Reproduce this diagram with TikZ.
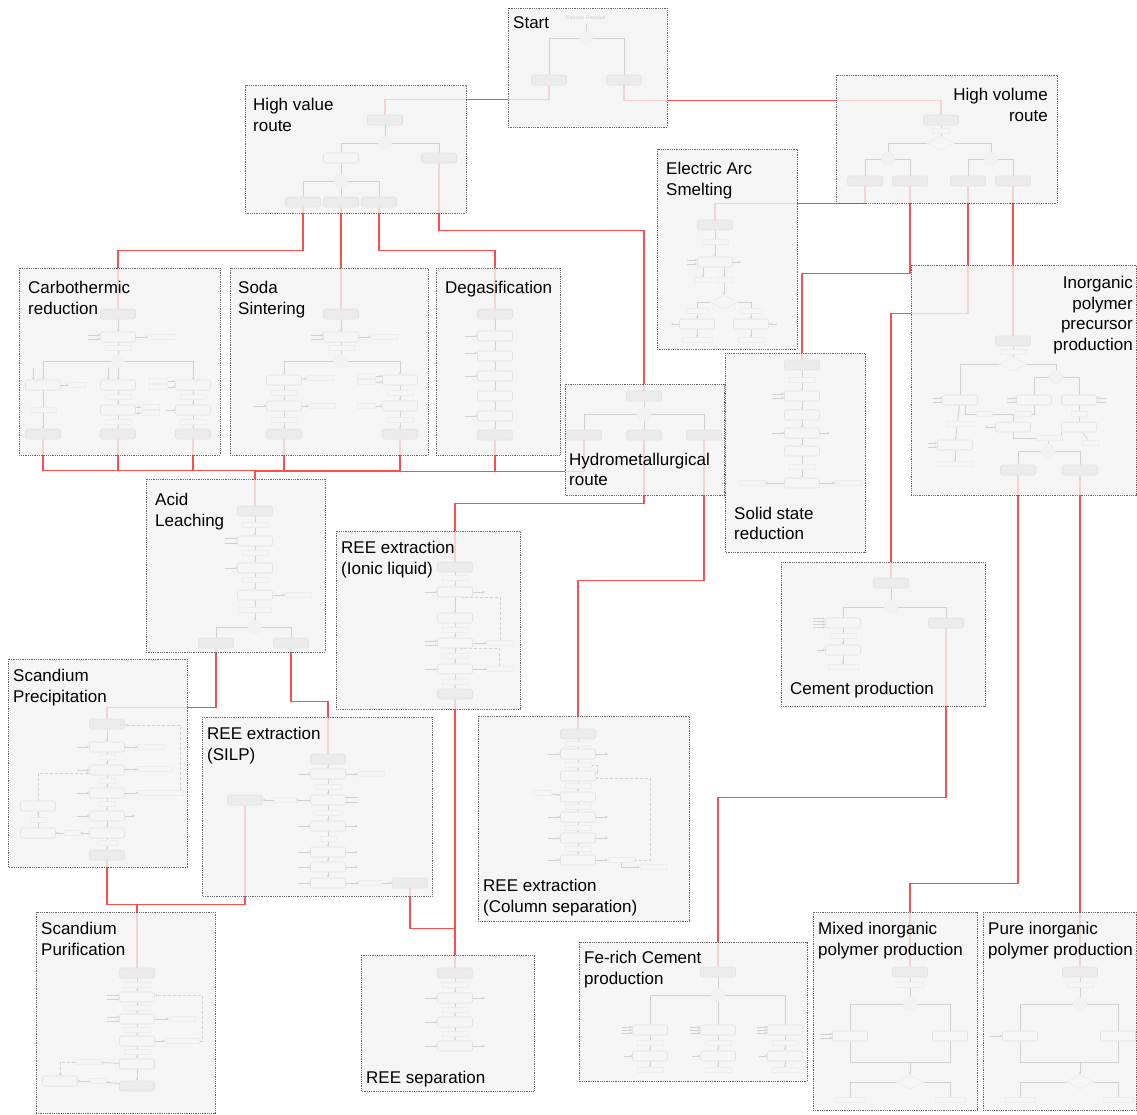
\documentclass[tikz,border=0pt]{standalone}
\usepackage{fontspec}
\setmainfont{Liberation Sans}
\usetikzlibrary{shapes.geometric,arrows.meta}
\pgfdeclarelayer{wires}
\pgfdeclarelayer{panels}
\pgfsetlayers{wires,panels,main}
\definecolor{wirered}{HTML}{FF4D4D}
\definecolor{panelgray}{HTML}{F3F3F3}
\tikzset{
  panel/.style={draw=black!60, densely dotted, line width=0.8pt, fill=panelgray, fill opacity=0.8},
  blk/.style={draw=black!11, fill=black!8, rounded corners=1.5pt, minimum width=35pt, minimum height=10pt, inner sep=0pt, line width=0.6pt},
  wbx/.style={blk, fill=black!4},
  tg/.style={draw=black!7, fill=black!4, minimum width=26pt, minimum height=5pt, inner sep=0pt, line width=0.5pt},
  jn/.style={circle, draw=black!7, fill=black!5, minimum size=13pt, inner sep=0pt},
  dm/.style={diamond, draw=black!9, fill=black!4, minimum width=28pt, minimum height=14pt, inner sep=0pt},
  fl/.style={draw=black!18, line width=0.8pt},
  fa/.style={fl, -{Stealth[length=2.5pt,width=2.5pt]}},
  dl/.style={fa, dash pattern=on 3pt off 2pt},
  wr/.style={draw=wirered, line width=1.4pt},
  lbl/.style={font=\fontsize{17}{20.5}\selectfont, align=left, inner sep=0pt},
}
\begin{document}
\begin{tikzpicture}[x=1pt,y=-1pt]
\useasboundingbox (0,0) rectangle (1137,1114);

% panels
\begin{pgfonlayer}{panels}
\draw[panel] (508,8) rectangle (667,127);
\draw[panel] (245,85) rectangle (466,213);
\draw[panel] (836,75) rectangle (1057,203);
\draw[panel] (657,149) rectangle (797,349);
\draw[panel] (19,268) rectangle (220,455);
\draw[panel] (230,268) rectangle (428,455);
\draw[panel] (436,268) rectangle (560,455);
\draw[panel] (565,384) rectangle (724,495);
\draw[panel] (725,353) rectangle (865,552);
\draw[panel] (911,265) rectangle (1136.5,495);
\draw[panel] (146,479) rectangle (325,652);
\draw[panel] (336,531) rectangle (520,709);
\draw[panel] (781,562) rectangle (985,706);
\draw[panel] (8,659) rectangle (187,867);
\draw[panel] (202,717) rectangle (432,896);
\draw[panel] (478,716) rectangle (689,921);
\draw[panel] (36,912) rectangle (215,1113.5);
\draw[panel] (361,955) rectangle (534,1091);
\draw[panel] (579,942) rectangle (807,1081);
\draw[panel] (813,912) rectangle (977,1110);
\draw[panel] (983,912) rectangle (1136.5,1110);
\end{pgfonlayer}

% start
\node[font=\fontsize{5.5}{6}\selectfont, text=black!18] (stT) at (586,18) {Bauxite Residue};
\node[jn] (st0) at (586,38) {};
\node[blk] (stL) at (549,80) {};
\node[blk] (stR) at (624,80) {};

% high value route
\node[blk] (hv0) at (385,120) {};
\node[jn] (hvJ) at (385,143) {};
\node[wbx] (hvA) at (341,158) {};
\node[blk] (hvB) at (439,158) {};
\node[jn] (hvK) at (341,181) {};
\node[blk] (hvC) at (303,202) {};
\node[blk] (hvD) at (341,202) {};
\node[blk] (hvE) at (379,202) {};

% high volume route
\node[blk] (vo0) at (941,120) {};
\node[tg, minimum width=17pt] (voT) at (941,131) {};
\node[dm] (voM) at (941,143) {};
\node[jn] (voJ) at (888,159) {};
\node[jn] (voK) at (991,159) {};
\node[blk] (voA) at (865,181) {};
\node[blk] (voB) at (910,181) {};
\node[blk] (voC) at (968,181) {};
\node[blk] (voD) at (1013,181) {};

% electric arc smelting
\node[blk] (ea0) at (715,225) {};
\node[tg] (eaT) at (715,242) {};
\node[wbx] (ea1) at (715,262) {};
\node[tg, minimum width=16pt] (eaT1) at (703,280) {};
\node[tg, minimum width=16pt] (eaT2) at (724,280) {};
\node[dm] (eaM) at (724,302) {};
\node[tg, minimum width=22pt] (eaT3) at (697,311) {};
\node[tg, minimum width=22pt] (eaT4) at (751,311) {};
\node[wbx] (eaL) at (697,324) {};
\node[wbx] (eaR) at (751,324) {};
\node[tg, minimum width=30pt] (eaB1) at (697,340) {};
\node[tg] (eaB2) at (751,340) {};

% solid state reduction
\node[blk] (ss0) at (802,365) {};
\foreach \n/\y in {1/396,2/415,3/433,4/451,5/483} \node[wbx] (ss\n) at (802,\y) {};
\node[tg] (ssT1) at (802,380) {};
\node[tg] (ssT5) at (802,467) {};
\node[tg] (ssTL) at (752,483) {};
\node[tg] (ssTR) at (848,483) {};

% carbothermic reduction
\node[blk] (cb0) at (118,314) {};
\node[wbx] (cb1) at (118,337) {};
\node[tg] (cbT1) at (118,348) {};
\node[tg] (cbS1) at (161,337) {};
\node[jn] (cbJ) at (118,361) {};
\node[wbx] (cbA) at (43,385) {};
\node[wbx] (cbB) at (118,385) {};
\node[wbx] (cbC) at (193,385) {};
\node[tg, minimum width=17pt] (cbSA) at (77,385) {};
\node[tg] (cbTA) at (43,410) {};
\node[tg] (cbTB) at (118,397) {};
\node[wbx] (cbB2) at (118,410) {};
\node[tg] (cbTB2) at (118,422) {};
\node[tg, minimum width=18pt] (cbSB1) at (150,407) {};
\node[tg, minimum width=18pt] (cbSB2) at (150,413) {};
\node[tg, minimum width=18pt] (cbSC1) at (158,381) {};
\node[tg, minimum width=18pt] (cbSC2) at (158,387) {};
\node[tg] (cbTC) at (193,397) {};
\node[wbx] (cbC2) at (193,410) {};
\node[tg] (cbTC2) at (193,422) {};
\node[blk] (cbL) at (43,434) {};
\node[blk] (cbM) at (118,434) {};
\node[blk] (cbR) at (193,434) {};

% soda sintering
\node[blk] (so0) at (341,314) {};
\node[wbx] (so1) at (341,337) {};
\node[tg] (soT1) at (341,348) {};
\node[tg] (soS1) at (384,337) {};
\node[jn] (soJ) at (341,361) {};
\node[wbx] (soA) at (284,380) {};
\node[wbx] (soB) at (400,380) {};
\node[tg] (soSA) at (320,378) {};
\node[tg, minimum width=18pt] (soSB1) at (366,376) {};
\node[tg, minimum width=18pt] (soSB2) at (366,382) {};
\node[tg] (soTA) at (284,393) {};
\node[wbx] (soA2) at (284,406) {};
\node[tg] (soSA2) at (322,406) {};
\node[tg] (soTB) at (400,393) {};
\node[wbx] (soB2) at (400,406) {};
\node[tg, minimum width=18pt] (soSB3) at (366,406) {};
\node[tg] (soTA2) at (284,420) {};
\node[tg] (soTB2) at (400,420) {};
\node[blk] (soL) at (284,434) {};
\node[blk] (soR) at (400,434) {};

% degasification
\node[blk] (dg0) at (495,314) {};
\foreach \n/\y in {1/336,2/356,3/376,4/396,5/416} \node[wbx] (dg\n) at (495,\y) {};
\node[blk] (dg6) at (495,435) {};

% hydrometallurgical route
\node[blk] (hy0) at (644,396) {};
\node[jn] (hyJ) at (644,414) {};
\node[blk] (hyL) at (584,435) {};
\node[blk] (hyM) at (644,435) {};
\node[blk] (hyR) at (704,435) {};

% inorganic polymer precursor
\node[blk] (id0) at (1013,341) {};
\node[tg] (idT0) at (1013,352) {};
\node[dm] (idM) at (1013,364) {};
\node[jn] (idJ) at (1056,377) {};
\node[wbx] (idA) at (960,400) {};
\node[wbx] (idB) at (1034,400) {};
\node[wbx] (idC) at (1079,400) {};
\node[tg] (idTA) at (960,424) {};
\node[wbx] (idA2) at (955,445) {};
\node[tg, minimum width=34pt] (idTA2) at (955,464) {};
\node[tg, minimum width=16pt] (idTB) at (984,414) {};
\node[tg, minimum width=16pt] (idTB2) at (1023,414) {};
\node[wbx] (idD) at (1013,427) {};
\node[tg, minimum width=16pt] (idTC) at (1079,414) {};
\node[wbx] (idE) at (1079,427) {};
\node[tg, minimum width=16pt] (idTE) at (1090,443) {};
\node[tg] (idTD) at (1049,438) {};
\node[jn] (idK) at (1048,451) {};
\node[blk] (idL) at (1018,470) {};
\node[blk] (idR) at (1080,470) {};

% acid leaching
\node[blk] (al0) at (255,511) {};
\node[tg] (alT0) at (255,525) {};
\node[wbx] (al1) at (255,541) {};
\node[tg] (alT1) at (255,553) {};
\node[wbx] (al2) at (255,568) {};
\node[tg] (alT2) at (255,580) {};
\node[wbx] (al3) at (255,595) {};
\node[tg] (alS3) at (298,595) {};
\node[tg, minimum width=33pt] (alT3) at (255,610) {};
\node[jn] (alJ) at (255,627) {};
\node[blk] (alL) at (216,643) {};
\node[blk] (alR) at (291,643) {};

% REE extraction (ionic liquid)
\node[blk] (il0) at (455,567) {};
\node[tg] (ilT0) at (455,578) {};
\node[wbx] (il1) at (455,592) {};
\node[wbx] (il2) at (455,618) {};
\node[tg] (ilT2) at (455,630) {};
\node[wbx] (il3) at (455,643) {};
\node[tg] (ilT3) at (455,656) {};
\node[wbx] (il4) at (455,669) {};
\node[tg] (ilT4) at (455,682) {};
\node[blk] (il5) at (455,694) {};
\node[tg] (ilS3) at (500,643) {};
\node[tg] (ilS4) at (500,669) {};
\coordinate (ilC1) at (500,605);
\coordinate (ilC2) at (499,652);

% cement production
\node[blk] (cm0) at (891,583) {};
\node[jn] (cmJ) at (891,607) {};
\node[wbx] (cmA) at (843,623) {};
\node[blk] (cmR) at (946,623) {};
\node[tg] (cmT1) at (843,636) {};
\node[wbx] (cmB) at (843,650) {};
\node[tg, minimum width=30pt] (cmT2) at (843,667) {};

% scandium precipitation
\node[blk] (sp0) at (107,724) {};
\foreach \n/\y in {1/747,2/770,3/793,4/816,5/833} \node[wbx] (sp\n) at (107,\y) {};
\node[blk] (sp6) at (107,855) {};
\node[tg, minimum width=16pt] (spT1) at (107,757) {};
\node[tg, minimum width=16pt] (spT2) at (107,781) {};
\node[tg, minimum width=16pt] (spT3) at (107,804) {};
\node[tg, minimum width=20pt] (spT5) at (107,843) {};
\node[tg] (spS1) at (151,747) {};
\node[tg, minimum width=34pt] (spS2) at (155,769) {};
\node[tg, minimum width=45pt] (spS3) at (161,793) {};
\node[wbx] (spA) at (38,806) {};
\node[tg, minimum width=16pt] (spTA) at (38,820) {};
\node[wbx] (spB) at (38,833) {};
\node[tg, minimum width=16pt] (spSB) at (72,833) {};
\coordinate (spC1) at (38,773);
\coordinate (spC2) at (180,725);

% REE extraction (SILP)
\node[blk] (sl0) at (328,759) {};
\foreach \n/\y in {1/774,2/800,3/826,4/852,5/867,6/883} \node[wbx] (sl\n) at (328,\y) {};
\node[tg] (slT1) at (328,787) {};
\node[tg, minimum width=29pt] (slT2) at (328,813) {};
\node[tg, minimum width=16pt] (slT3) at (328,839) {};
\node[tg] (slS1) at (371,774) {};
\node[tg, minimum width=22pt] (slS2) at (285,800) {};
\node[blk] (slL) at (245,800) {};
\node[tg, minimum width=22pt] (slS6) at (370,883) {};
\node[blk] (slR) at (410,883) {};

% REE extraction (column separation)
\node[blk] (cs0) at (578,734) {};
\foreach \n/\y in {1/754,2/776,3/797,4/817,5/838,6/860} \node[wbx] (cs\n) at (578,\y) {};
\foreach \n/\y in {1/744,2/765,3/786,4/807,5/828,6/849} \node[tg] (csT\n) at (578,\y) {};
\node[tg] (csS6) at (621,860) {};
\node[tg] (csS7) at (653,867) {};
\node[tg, minimum width=18pt] (csS3) at (542,793) {};
\coordinate (csC1) at (650,860);

% scandium purification
\node[blk] (pu0) at (137,973) {};
\foreach \n/\y in {1/997,2/1019,3/1041,4/1064} \node[wbx] (pu\n) at (137,\y) {};
\node[blk] (pu5) at (137,1086) {};
\foreach \n/\y in {1/985,2/1008,3/1030,4/1052} \node[tg] (puT\n) at (137,\y) {};
\node[tg] (puS2) at (182,1019) {};
\node[tg, minimum width=34pt] (puS3) at (182,1041) {};
\node[tg] (puS4) at (88,1062) {};
\node[wbx] (puA) at (60,1081) {};
\node[tg, minimum width=16pt] (puSA) at (98,1081) {};
\coordinate (puC1) at (202,1041);

% REE separation
\node[blk] (rs0) at (455,973) {};
\foreach \n/\y in {1/998,2/1022,3/1046} \node[wbx] (rs\n) at (455,\y) {};
\foreach \n/\y in {1/985,2/1010,3/1034} \node[tg] (rsT\n) at (455,\y) {};

% Fe-rich cement production
\node[blk] (fe0) at (718,972) {};
\node[jn] (feJ) at (718,995) {};
\foreach \n/\x in {A/650,B/718,C/785} {
  \node[wbx] (fe\n) at (\x,1030) {};
  \node[tg] (feT\n) at (\x,1043) {};
  \node[wbx] (fe\n2) at (\x,1056) {};
  \node[tg] (feU\n) at (\x,1070) {};
}

% mixed inorganic polymer production
\node[blk] (mx0) at (910,972) {};
\node[tg] (mxT) at (910,985) {};
\node[jn] (mxJ) at (910,1004) {};
\node[wbx] (mxA) at (850,1036) {};
\node[wbx] (mxB) at (950,1036) {};
\coordinate (mxC) at (910,1062);
\node[dm] (mxM) at (910,1082) {};
\node[tg, minimum width=30pt] (mxU1) at (850,1100) {};
\node[tg, minimum width=30pt] (mxU2) at (950,1100) {};

% pure inorganic polymer production
\node[blk] (pr0) at (1080,972) {};
\node[tg] (prT) at (1080,985) {};
\node[jn] (prJ) at (1080,1004) {};
\node[wbx] (prA) at (1020,1036) {};
\node[wbx] (prB) at (1118,1036) {};
\coordinate (prC) at (1080,1062);
\node[dm] (prM) at (1080,1082) {};
\node[tg, minimum width=30pt] (prU1) at (1020,1100) {};
\node[tg, minimum width=30pt] (prU2) at (1118,1100) {};

% faint flows inside panels
\begin{pgfonlayer}{panels}
\draw[fl] (stT) -- (st0);
\draw[fl] (st0) -| (stL);
\draw[fl] (st0) -| (stR);
\draw[fl] (hv0) -- (hvJ);
\draw[fl] (hvJ) -| (hvA);
\draw[fl] (hvJ) -| (hvB);
\draw[fl] (hvA) -- (hvK);
\draw[fl] (hvK) -| (hvC);
\draw[fl] (hvK) -- (hvD);
\draw[fl] (hvK) -| (hvE);
\draw[fl] (vo0) -- (voM);
\draw[fl] (voM) -| (voJ);
\draw[fl] (voM) -| (voK);
\draw[fl] (voJ) -| (voA);
\draw[fl] (voJ) -| (voB);
\draw[fl] (voK) -| (voC);
\draw[fl] (voK) -| (voD);
% electric arc
\draw[fa] (ea0) -- (ea1);
\draw[fa] (ea1.south -| eaT1) -- (eaT1);
\draw[fa] (ea1.south -| eaT2) -- (eaT2);
\draw[fa] (eaT2) -- (eaM);
\draw[fa] (eaM) -| (eaL);
\draw[fa] (eaM) -| (eaR);
\draw[fa] (eaL) -- (eaB1);
\draw[fa] (eaR) -- (eaB2);
\foreach \d in {-2,2} \draw[fa] ([xshift=-10pt,yshift=\d pt]ea1.west) -- ([yshift=\d pt]ea1.west);
\draw[fa] (ea1.east) -- ++(8,0);
\draw[fa] (eaL.west) -- ++(-8,0);
\draw[fa] ([xshift=8pt]eaR.east) -- (eaR.east);
% solid state
\foreach \a/\b in {0/1,1/2,2/3,3/4,4/5} \draw[fa] (ss\a) -- (ss\b);
\draw[fa] (ss5) -- (ssTL);
\draw[fa] (ss5) -- (ssTR);
\foreach \d in {-2,2} \draw[fa] ([xshift=-12pt,yshift=\d pt]ss1.west) -- ([yshift=\d pt]ss1.west);
\draw[fa] ([xshift=-12pt]ss3.west) -- (ss3.west);
\draw[fa] (ss3.east) -- ++(10,0);
% carbothermic
\draw[fa] (cb0) -- (cb1);
\draw[fl] (cb1) -- (cbJ);
\draw[fa] (cb1) -- (cbS1);
\draw[fa] (cbJ) -| (cbA);
\draw[fa] (cbJ) -- (cbB);
\draw[fa] (cbJ) -| (cbC);
\draw[fa] (cbA) -- (cbSA);
\draw[fa] (cbA) -- (cbL);
\draw[fa] (cbB) -- (cbB2);
\draw[fa] (cbB2) -- (cbM);
\draw[fa] (cbC) -- (cbC2);
\draw[fa] (cbC2) -- (cbR);
\draw[fa] (cbSC1) -- (cbSC1 -| cbC.west);
\draw[fa] (cbSC2) -- (cbSC2 -| cbC.west);
\draw[fa] (cbB2.east |- cbSB1) -- (cbSB1);
\draw[fa] (cbB2.east |- cbSB2) -- (cbSB2);
\foreach \d in {-2,2} \draw[fa] ([xshift=-12pt,yshift=\d pt]cb1.west) -- ([yshift=\d pt]cb1.west);
\draw[fa] ([xshift=-10pt,yshift=12pt]cbA.north) -- ([xshift=-10pt]cbA.north);
\draw[fa] ([xshift=-10pt,yshift=12pt]cbB.north) -- ([xshift=-10pt]cbB.north);
\draw[fa] ([xshift=-9pt]cbC2.west) -- (cbC2.west);
% soda sintering
\draw[fa] (so0) -- (so1);
\draw[fl] (so1) -- (soJ);
\draw[fa] (so1) -- (soS1);
\draw[fa] (soJ) -| (soA);
\draw[fa] (soJ) -| (soB);
\draw[fa] (soA) -- (soSA);
\draw[fa] (soA) -- (soA2);
\draw[fa] (soA2) -- (soSA2);
\draw[fa] (soA2) -- (soL);
\draw[fa] (soB) -- (soB2);
\draw[fa] (soB2) -- (soR);
\draw[fa] (soSB1) -- (soSB1 -| soB.west);
\draw[fa] (soSB2) -- (soSB2 -| soB.west);
\draw[fa] (soSB3) -- (soB2);
\foreach \d in {-2,2} \draw[fa] ([xshift=-12pt,yshift=\d pt]so1.west) -- ([yshift=\d pt]so1.west);
\draw[fa] ([xshift=-12pt]soA2.west) -- (soA2.west);
% degasification
\foreach \a/\b in {0/1,1/2,2/3,3/4,4/5,5/6} \draw[fa] (dg\a) -- (dg\b);
\foreach \n in {1,3,5} \draw[fa] ([xshift=-12pt]dg\n.west) -- (dg\n.west);
\draw[fa] ([xshift=-12pt,yshift=3pt]dg2.west) -- ([yshift=3pt]dg2.west);
% hydrometallurgical
\draw[fl] (hy0) -- (hyJ);
\draw[fl] (hyJ) -| (hyL);
\draw[fl] (hyJ) -- (hyM);
\draw[fl] (hyJ) -| (hyR);
% inorganic precursor
\draw[fl] (id0) -- (idM);
\draw[fl] (idM) -| (idA);
\draw[fl] (idM) -| (idJ);
\draw[fl] (idJ) -| (idB);
\draw[fl] (idJ) -| (idC);
\draw[fa] (idA) -- (idA2);
\draw[fa] (idA2) -- (idTA2);
\draw[fl] ([xshift=5pt]idA.south) |- (idTB);
\draw[fl] (idTB) -| (idD);
\draw[fl] (idB) |- (idTB2);
\draw[fl] (idC) -- (idE);
\draw[fl] (idE) -- (idTE);
\draw[fl] (idD) |- (idTD);
\draw[fl] (idE.south west) |- (idTD);
\draw[fl] (idTD) -- (idK);
\draw[fl] (idK) -| (idL);
\draw[fl] (idK) -| (idR);
\draw[fa] (idD.west) -- ++(-10,0);
\foreach \d in {-2,2} {
  \draw[fa] ([xshift=-9pt,yshift=\d pt]idA.west) -- ([yshift=\d pt]idA.west);
  \draw[fa] ([xshift=-9pt,yshift=\d pt]idB.west) -- ([yshift=\d pt]idB.west);
  \draw[fa] ([xshift=-9pt,yshift=\d pt]idA2.west) -- ([yshift=\d pt]idA2.west);
  \draw[fa] ([xshift=9pt,yshift=\d pt]idC.east) -- ([yshift=\d pt]idC.east);
}
% acid leaching
\foreach \a/\b in {0/1,1/2,2/3} \draw[fa] (al\a) -- (al\b);
\draw[fa] (al3) -- (alJ);
\draw[fl] (alJ) -| (alL);
\draw[fl] (alJ) -| (alR);
\draw[fa] (al3) -- (alS3);
\foreach \d in {-2.5,2.5} \draw[fa] ([xshift=-12pt,yshift=\d pt]al1.west) -- ([yshift=\d pt]al1.west);
\draw[fa] ([xshift=-12pt]al2.west) -- (al2.west);
% ionic liquid
\foreach \a/\b in {0/1,1/2,2/3,3/4,4/5} \draw[fa] (il\a) -- (il\b);
\draw[fa] (il1.east) -- ++(12,0);
\draw[fa] ([xshift=-12pt]il1.west) -- (il1.west);
\draw[fa] (il3) -- (ilS3);
\draw[fa] (il4) -- (ilS4);
\foreach \d in {-2,2} \draw[fa] ([xshift=-12pt,yshift=\d pt]il3.west) -- ([yshift=\d pt]il3.west);
\draw[fa] ([xshift=-12pt]il4.west) -- (il4.west);
\draw[dl] (ilS3.north -| ilC1) |- ([xshift=7pt]il1.south);
\draw[dl] (ilS4.north -| ilC2) |- ([xshift=5pt]il3.south);
% cement
\draw[fl] (cm0) -- (cmJ);
\draw[fl] (cmJ) -| (cmA);
\draw[fl] (cmJ) -| (cmR);
\draw[fa] (cmA) -- (cmB);
\draw[fa] (cmB) -- (cmT2);
\foreach \d in {-4.5,-1.5,1.5,4.5} \draw[fa] ([xshift=-12pt,yshift=\d pt]cmA.west) -- ([yshift=\d pt]cmA.west);
\draw[fa] ([xshift=-8pt]cmB.west) -- (cmB.west);
% scandium precipitation
\foreach \a/\b in {0/1,1/2,2/3,3/4,4/5,5/6} \draw[fa] (sp\a) -- (sp\b);
\foreach \n in {1,2,3} \draw[fa] (sp\n) -- (spS\n);
\foreach \n in {1,2,3,4} \draw[fa] ([xshift=-12pt]sp\n.west) -- (sp\n.west);
\draw[fa] (sp4.east) -- ++(10,0);
\draw[fa] (sp5) -- (spSB);
\draw[fa] (spSB) -- (spB);
\draw[fa] (spB) -- (spA);
\draw[dl] (spA) -- (spC1) -- ([yshift=-3pt]sp2.west);
\draw[dl] (spS3.north -| spC2) -- (spC2) -- (sp0.east |- spC2);
% SILP
\foreach \a/\b in {0/1,1/2,2/3,3/4,4/5,5/6} \draw[fa] (sl\a) -- (sl\b);
\draw[fa] (sl1) -- (slS1);
\draw[fa] (sl2) -- (slS2);
\draw[fa] (slS2) -- (slL);
\draw[fa] (sl6) -- (slS6);
\draw[fa] (slS6) -- (slR);
\foreach \d in {-2.5,2.5} \draw[fa] ([xshift=12pt,yshift=\d pt]sl2.east) -- ([yshift=\d pt]sl2.east);
\foreach \n in {1,3,4,5,6} \draw[fa] ([xshift=-12pt]sl\n.west) -- (sl\n.west);
\foreach \n in {3,4,5} \draw[fa] (sl\n.east) -- ++(12,0);
% column separation
\foreach \a/\b in {0/1,1/2,2/3,3/4,4/5,5/6} \draw[fa] (cs\a) -- (cs\b);
\foreach \n in {1,4,5,6} \draw[fa] ([xshift=-12pt]cs\n.west) -- (cs\n.west);
\foreach \n in {1,4,5} \draw[fa] (cs\n.east) -- ++(12,0);
\draw[fa] (csS3) -- (cs3);
\draw[fa] (cs6) -- (csS6);
\draw[fa] (csS6) |- (csS7);
\draw[dl] (csS6) -- (csC1) |- ([yshift=-2pt]cs2.east);
\draw[dl] (csT2.east) -- ++(6,0) |- ([yshift=3pt]cs2.east);
% scandium purification
\foreach \a/\b in {0/1,1/2,2/3,3/4,4/5} \draw[fa] (pu\a) -- (pu\b);
\foreach \n in {1,2} \foreach \d in {-2,2} \draw[fa] ([xshift=-12pt,yshift=\d pt]pu\n.west) -- ([yshift=\d pt]pu\n.west);
\draw[fa] (pu2) -- (puS2);
\draw[fa] (pu3) -- (puS3);
\draw[dl] (puS3) -- (puC1) |- ([yshift=2pt]pu1.east);
\draw[fa] (pu4) -- (puS4);
\draw[fa] (pu5) -- (puSA);
\draw[fa] (puSA) -- (puA);
\draw[dl] (puS4) -| (puA);
% REE separation
\foreach \a/\b in {0/1,1/2,2/3} \draw[fa] (rs\a) -- (rs\b);
\foreach \n in {1,2,3} \draw[fa] ([xshift=-12pt]rs\n.west) -- (rs\n.west);
\foreach \n in {1,3} \draw[fa] (rs\n.east) -- ++(12,0);
% Fe-rich cement
\draw[fl] (fe0) -- (feJ);
\draw[fl] (feJ) -| (feA);
\draw[fl] (feJ) -- (feB);
\draw[fl] (feJ) -| (feC);
\foreach \n in {A,B,C} {
  \draw[fa] (fe\n) -- (fe\n2);
  \draw[fa] (fe\n2) -- (feU\n);
  \foreach \d in {-3,0,3} \draw[fa] ([xshift=-10pt,yshift=\d pt]fe\n.west) -- ([yshift=\d pt]fe\n.west);
  \draw[fa] ([xshift=-8pt]fe\n2.west) -- (fe\n2.west);
}
% mixed inorganic polymer
\draw[fl] (mx0) -- (mxJ);
\draw[fl] (mxJ) -| (mxA);
\draw[fl] (mxJ) -| (mxB);
\draw[fl] (mxA) |- (mxC);
\draw[fl] (mxB) |- (mxC);
\draw[fa] (mxC) -- (mxM);
\draw[fl] (mxM) -| (mxU1);
\draw[fl] (mxM) -| (mxU2);
\foreach \d in {-2,2} \draw[fa] ([xshift=-12pt,yshift=\d pt]mxA.west) -- ([yshift=\d pt]mxA.west);
\draw[fa] ([xshift=-10pt]mxB.east) -- (mxB.east);
% pure inorganic polymer
\draw[fl] (pr0) -- (prJ);
\draw[fl] (prJ) -| (prA);
\draw[fl] (prJ) -| (prB);
\draw[fl] (prA) |- (prC);
\draw[fl] (prB) |- (prC);
\draw[fa] (prC) -- (prM);
\draw[fl] (prM) -| (prU1);
\draw[fl] (prM) -| (prU2);
\draw[fa] ([xshift=-12pt]prA.west) -- (prA.west);
\end{pgfonlayer}

% red connectors between routes
\begin{pgfonlayer}{wires}
\draw[wr] (hv0.north) -- ++(0,-15) -| (stL.south);
\draw[wr] (stR.south) -- ++(0,15) -| (vo0.north);
\draw[wr] (voA.south) -- ++(0,17) -| (ea0.north);
\draw[wr] (voB.south) -- ++(0,87) -| (ss0.north);
\draw[wr] (voC.south) -- ++(0,127) -| (cm0.north);
\draw[wr] (voD.south) -- (id0.north);
\draw[wr] (hvC.south) -- ++(0,43) -| (cb0.north);
\draw[wr] (hvD.south) -- (so0.north);
\draw[wr] (hvE.south) -- ++(0,43) -| (dg0.north);
\draw[wr] (hvB.south) -- ++(0,67) -| (hy0.north);
\foreach \n in {cbL,cbM,cbR,soL,soR,dg6,hyL}
  \draw[wr] (\n.south) -- ++(0,31) -| (al0.north);
\draw[wr] (hyM.south) -- ++(0,63) -| (il0.north);
\draw[wr] (hyR.south) -- ++(0,140) -| (cs0.north);
\draw[wr] (il5.south) -- (rs0.north);
\draw[wr] (alL.south) -- ++(0,59) -| (sp0.north);
\draw[wr] (alR.south) -- ++(0,53) -| (sl0.north);
\draw[wr] (sp6.south) -- ++(0,44) -| (slL.south);
\draw[wr] (sp6.south) -- ++(0,44) -| (pu0.north);
\draw[wr] (slR.south) -- ++(0,40) -| (rs0.north);
\draw[wr] (cmR.south) -- ++(0,169) -| (fe0.north);
\draw[wr] (idL.south) -- ++(0,408) -| (mx0.north);
\draw[wr] (idR.south) -- (pr0.north);
\end{pgfonlayer}

% panel titles
\node[lbl, anchor=north west] (lStart) at (513,16) {Start};
\node[lbl, anchor=north west] (lHv) at (253,98) {High value\\route};
\node[lbl, anchor=north east, align=right] (lVo) at (1048,88) {High volume\\route};
\node[lbl, anchor=north west] (lEa) at (666,162) {Electric Arc\\Smelting};
\node[lbl, anchor=north west] (lCb) at (28,281) {Carbothermic\\reduction};
\node[lbl, anchor=north west] (lSo) at (238,281) {Soda\\Sintering};
\node[lbl, anchor=north west] (lDg) at (445,281) {Degasification};
\node[lbl, anchor=south west] (lHy) at (569,486) {Hydrometallurgical\\route};
\node[lbl, anchor=south west] (lSs) at (734,540) {Solid state\\reduction};
\node[lbl, anchor=north east, align=right] (lId) at (1133,276) {Inorganic\\polymer\\precursor\\production};
\node[lbl, anchor=north west] (lAl) at (155,493) {Acid\\Leaching};
\node[lbl, anchor=north west] (lIl) at (341,541) {REE extraction\\(Ionic liquid)};
\node[lbl, anchor=base west] (lCm) at (790,694) {Cement production};
\node[lbl, anchor=north west] (lSp) at (13,669) {Scandium\\Precipitation};
\node[lbl, anchor=north west] (lSl) at (207,727) {REE extraction\\(SILP)};
\node[lbl, anchor=south west] (lCs) at (483,916) {REE extraction\\(Column separation)};
\node[lbl, anchor=north west] (lPu) at (41,922) {Scandium\\Purification};
\node[lbl, anchor=base west] (lRs) at (366,1083) {REE separation};
\node[lbl, anchor=north west] (lFe) at (584,951) {Fe-rich Cement\\production};
\node[lbl, anchor=north west] (lMx) at (818,922) {Mixed inorganic\\polymer production};
\node[lbl, anchor=north west] (lPr) at (988,922) {Pure inorganic\\polymer production};
\end{tikzpicture}
\end{document}
